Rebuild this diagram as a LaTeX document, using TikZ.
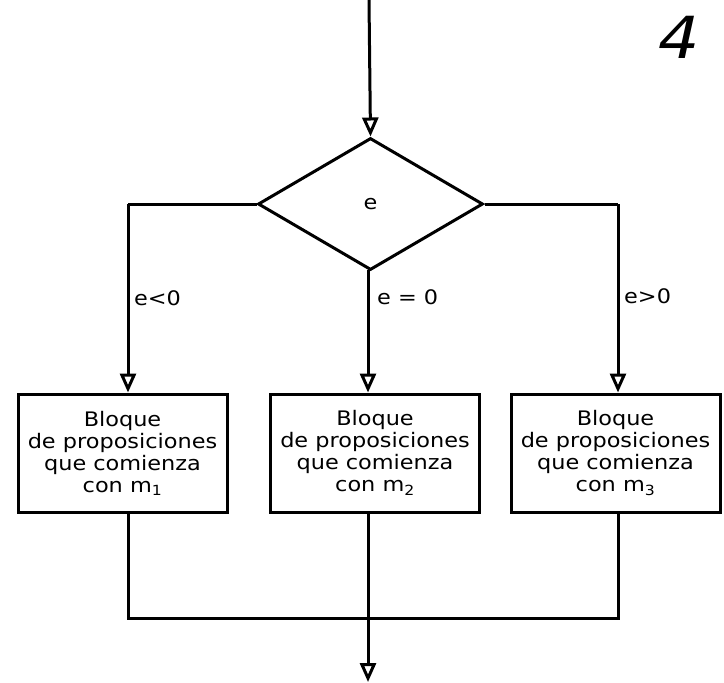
\documentclass[tikz,border=0pt]{standalone}
\usepackage{fontspec}
\setmainfont{DejaVu Sans}[FakeStretch=1.12]
\usetikzlibrary{shapes.geometric,arrows.meta}

\begin{document}
\begin{tikzpicture}[
    x=1pt, y=-1pt,
    every node/.style={font=\fontsize{20}{22}\selectfont},
    line/.style={line width=3pt},
    arr/.style={line, -{Triangle[open, length=19pt, width=16pt, line width=3pt]}},
    decision/.style={
        draw,
        line,
        diamond,
        inner sep=0pt,
        minimum width=225pt,
        minimum height=132pt
    },
    block/.style={
        draw,
        line,
        align=center,
        inner sep=0pt,
        minimum width=209pt,
        minimum height=118pt
    },
    lbl/.style={anchor=west, inner sep=0pt}
]
    \useasboundingbox (0,0) rectangle (724,683);

    % Decision
    \coordinate (start) at (369,0);
    \node[decision] (dec) at (370.5,204) {e};
    \draw[arr] (start) -- (dec.north);

    % Blocks
    \node[block] (lbox) at (122.5,453) {Bloque\\de proposiciones\\que comienza\\con m\textsubscript{1}};
    \node[block] (mbox) at (375,453) {Bloque\\de proposiciones\\que comienza\\con m\textsubscript{2}};
    \node[block] (rbox) at (615.5,453) {Bloque\\de proposiciones\\que comienza\\con m\textsubscript{3}};

    % Branches
    \coordinate (lturn) at (128,204);
    \coordinate (rturn) at (618,204);
    \coordinate (mdown) at (368,270);
    \draw[line] (dec.west) -- (lturn);
    \draw[arr] (lturn) -- (lturn |- lbox.north);
    \draw[line] (dec.east) -- (rturn);
    \draw[arr] (rturn) -- (rturn |- rbox.north);
    \draw[arr] (mdown) -- (mdown |- mbox.north);

    \node[lbl] (lneg) at (134,298) {e<0};
    \node[lbl] (lzero) at (377,297) {e = 0};
    \node[lbl] (lpos) at (624,296) {e>0};

    % Join
    \coordinate (join) at (368,618);
    \coordinate (out) at (368,682);
    \draw[line] (lturn |- lbox.south) |- (join) -| (rturn |- rbox.south);
    \draw[arr] (join |- mbox.south) -- (out);

    % Page number
    \node[font=\fontsize{58}{58}\selectfont\itshape] (pnum) at (679,37) {4};
\end{tikzpicture}
\end{document}
